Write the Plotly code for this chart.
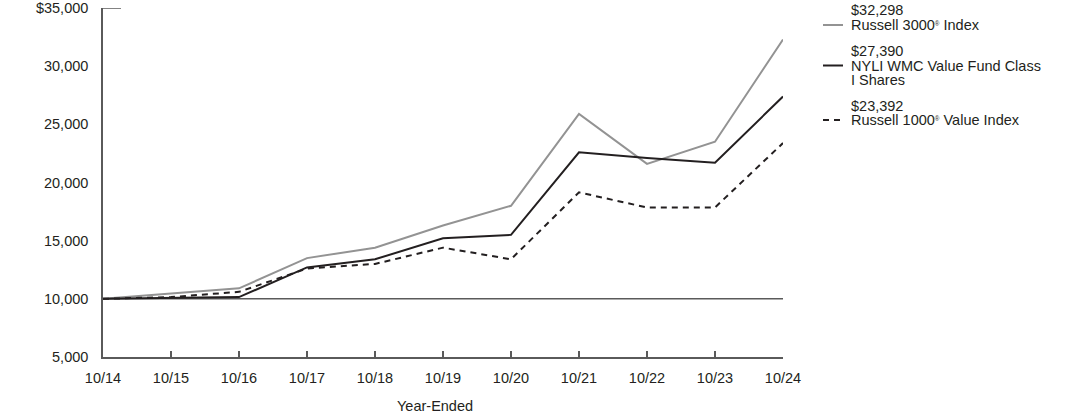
import plotly.graph_objects as go

years = ["10/14", "10/15", "10/16", "10/17", "10/18", "10/19", "10/20", "10/21", "10/22", "10/23", "10/24"]
russell3000 = [10000, 10450, 10900, 13500, 14400, 16300, 18000, 25900, 21600, 23500, 32298]
fund = [10000, 10100, 10150, 12700, 13400, 15200, 15500, 22600, 22100, 21700, 27390]
russell1000v = [10000, 10150, 10600, 12600, 13000, 14400, 13400, 19150, 17850, 17850, 23392]

ytick_vals = [5000, 10000, 15000, 20000, 25000, 30000, 35000]
ytick_text = ["5,000", "10,000", "15,000", "20,000", "25,000", "30,000", "$35,000"]

legend_items = [
    ("$32,298", ["Russell 3000<span style='font-size:9px'><sup>®</sup></span> Index"], "#939393", "solid"),
    ("$27,390", ["NYLI WMC Value Fund Class", "I Shares"], "#231f20", "solid"),
    ("$23,392", ["Russell 1000<span style='font-size:9px'><sup>®</sup></span> Value Index"], "#231f20", "dash"),
]

FONT = "Liberation Sans, Arial, sans-serif"
FS = 14.5
AXIS_COLOR = "#5a5a5a"

fig = go.Figure()
fig.add_trace(go.Scatter(x=years, y=russell3000, mode="lines",
                         line=dict(color="#939393", width=2), showlegend=False))
fig.add_trace(go.Scatter(x=years, y=fund, mode="lines",
                         line=dict(color="#231f20", width=2), showlegend=False))
fig.add_trace(go.Scatter(x=years, y=russell1000v, mode="lines",
                         line=dict(color="#231f20", width=2, dash="6px,5px"), showlegend=False))

W, H = 1092, 417
ml, mr, mt, mb = 103, 309, 8, 60
pw = W - ml - mr

shapes = []
shapes.append(dict(type="line", xref="paper", yref="y", x0=0, x1=1, y0=10000, y1=10000,
                   line=dict(color=AXIS_COLOR, width=1.5), layer="below"))
shapes.append(dict(type="line", xref="paper", yref="y", x0=0, x1=18 / pw, y0=35000, y1=35000,
                   line=dict(color=AXIS_COLOR, width=1.5)))

annotations = []

def px_x(x):
    return (x - ml) / pw

def px_y(y):
    return 1 - (y - mt) / (H - mt - mb)

legend_rows = [(10.5, 25), (51, 65.5), (105.5, 120)]
line_h = 14.5
for (value, lines, color, dash), (y_val, y_line) in zip(legend_items, legend_rows):
    annotations.append(dict(text=value, x=px_x(849), y=px_y(y_val), xref="paper", yref="paper",
                            xanchor="left", yanchor="middle", showarrow=False,
                            font=dict(family=FONT, size=FS, color="#231f20")))
    for i, t in enumerate(lines):
        annotations.append(dict(text=t, x=px_x(849), y=px_y(y_line + i * line_h), xref="paper", yref="paper",
                                xanchor="left", yanchor="middle", showarrow=False,
                                font=dict(family=FONT, size=FS, color="#231f20")))
    shapes.append(dict(type="line", xref="paper", yref="paper",
                       x0=px_x(823), x1=px_x(843), y0=px_y(y_line), y1=px_y(y_line),
                       line=dict(color=color, width=2, dash="6px,5px" if dash == "dash" else "solid")))

annotations.append(dict(text="Year-Ended", x=px_x(435), y=px_y(406), xref="paper", yref="paper",
                        xanchor="center", yanchor="middle", showarrow=False,
                        font=dict(family=FONT, size=FS, color="#231f20")))

fig.update_layout(
    width=W, height=H,
    margin=dict(l=ml, r=mr, t=mt, b=mb, autoexpand=False),
    plot_bgcolor="white", paper_bgcolor="white",
    font=dict(family=FONT, size=FS, color="#231f20"),
    shapes=shapes, annotations=annotations,
    xaxis=dict(type="category", range=[0, 10], showgrid=False, zeroline=False, automargin=False,
               showline=True, linecolor=AXIS_COLOR, linewidth=1.5,
               ticks="inside", ticklen=6, tickcolor=AXIS_COLOR, tickwidth=1.5,
               tickfont=dict(family=FONT, size=FS, color="#231f20"), ticklabelstandoff=7),
    yaxis=dict(range=[5000, 35000], showgrid=False, zeroline=False, automargin=False,
               showline=True, linecolor=AXIS_COLOR, linewidth=1.5,
               tickvals=ytick_vals, ticktext=ytick_text, ticks="",
               tickfont=dict(family=FONT, size=FS, color="#231f20"), ticklabelstandoff=10),
)

fig.write_html("out.html")
